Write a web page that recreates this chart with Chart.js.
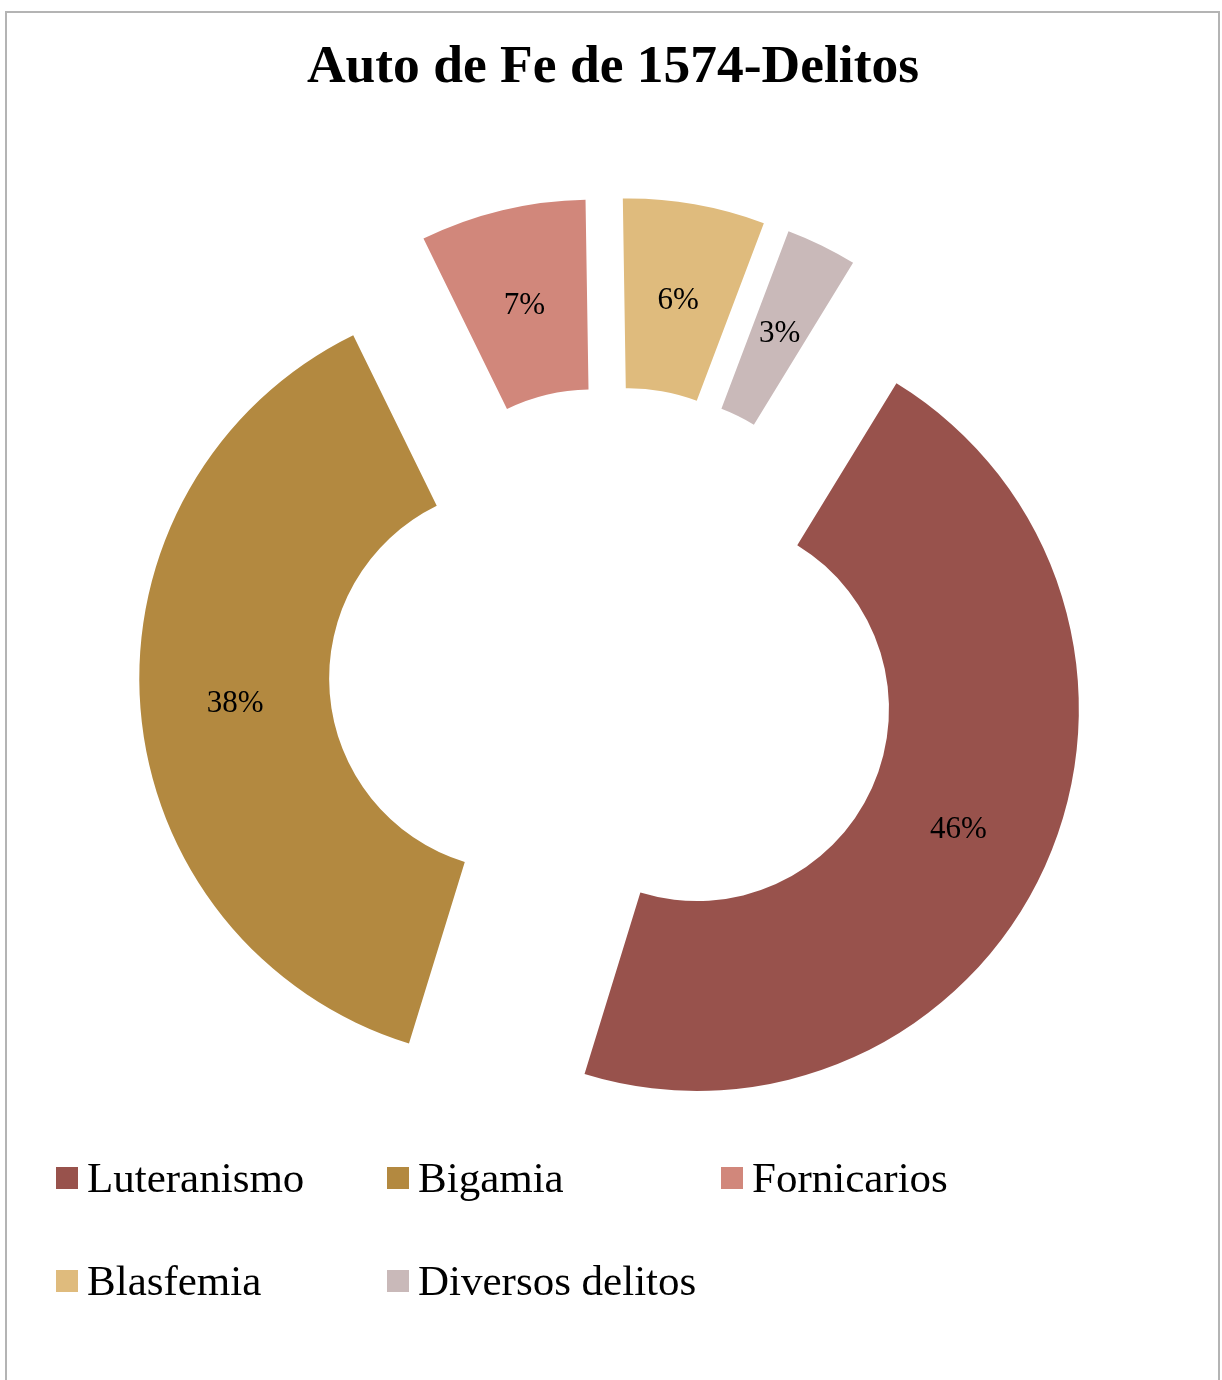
<!DOCTYPE html>
<html>
<head>
<meta charset="utf-8">
<script src="https://cdn.jsdelivr.net/npm/chart.js@4.4.1/dist/chart.umd.min.js"></script>
<style>
  html, body { margin: 0; padding: 0; background: #fff; overflow: hidden; }
  #frame {
    position: absolute; left: 5px; top: 11px;
    width: 1211px; height: 1400px;
    border: 2px solid #b4b4b4;
  }
  #chart { position: absolute; left: 0; top: 0; }
  #legend {
    position: absolute; left: 56px; top: 1156px;
    display: grid;
    grid-template-columns: 331px 334px 300px;
    row-gap: 60px;
    font-family: "Liberation Serif", "Times New Roman", serif;
    font-size: 43px; line-height: 1; color: #000;
  }
  #legend .item { display: flex; align-items: center; white-space: nowrap; }
  #legend .box { width: 22px; height: 22px; margin-right: 9px; }
</style>
</head>
<body>
<div id="frame"></div>
<canvas id="chart" width="1222" height="1380"></canvas>
<div id="legend"></div>
<script>
(function() {
  'use strict';

  var title = 'Auto de Fe de 1574-Delitos';
  var labels = ['Luteranismo', 'Bigamia', 'Fornicarios', 'Blasfemia', 'Diversos delitos'];
  var values = [46, 38, 7, 6, 3];
  var colors = ['#98524c', '#b38940', '#d1877b', '#dfbb7d', '#c9b9b9'];

  // distance every slice is pulled out from the centre
  var explode = 92;
  var serif = '"Liberation Serif", "Times New Roman", serif';

  var explodedSlices = {
    id: 'explodedSlices',
    beforeDatasetDraw: function(chart, args) {
      var ctx = chart.ctx;
      args.meta.data.forEach(function(arc) {
        var mid = (arc.startAngle + arc.endAngle) / 2;
        ctx.save();
        ctx.translate(Math.cos(mid) * explode, Math.sin(mid) * explode);
        arc.draw(ctx);
        ctx.restore();
      });
      return false;
    },
    afterDatasetsDraw: function(chart) {
      var ctx = chart.ctx;
      var meta = chart.getDatasetMeta(0);
      ctx.save();
      ctx.font = '31px ' + serif;
      ctx.fillStyle = '#000';
      ctx.textAlign = 'center';
      ctx.textBaseline = 'middle';
      meta.data.forEach(function(arc, i) {
        var mid = (arc.startAngle + arc.endAngle) / 2;
        var p = arc.tooltipPosition();
        ctx.fillText(values[i] + '%', p.x + Math.cos(mid) * explode, p.y + Math.sin(mid) * explode + 3);
      });
      ctx.restore();
    }
  };

  new Chart(document.getElementById('chart'), {
    type: 'doughnut',
    data: {
      labels: labels,
      datasets: [{
        data: values,
        backgroundColor: colors,
        borderWidth: 0
      }]
    },
    options: {
      responsive: false,
      animation: false,
      events: [],
      rotation: 31.5,
      radius: 382,
      cutout: '50.3%',
      layout: {
        padding: { left: 4, right: 0, top: 0, bottom: 138 }
      },
      plugins: {
        legend: { display: false },
        tooltip: { enabled: false },
        title: {
          display: true,
          text: title,
          color: '#000',
          font: { family: serif, size: 53.5, weight: 'bold' },
          padding: { top: 36, bottom: 0 }
        }
      }
    },
    plugins: [explodedSlices]
  });

  var legendHtml = '';
  for (var i = 0; i < labels.length; i++) {
    legendHtml += '<div class="item"><span class="box" style="background:' + colors[i] + '"></span>' +
      '<span>' + labels[i] + '</span></div>';
  }
  document.getElementById('legend').innerHTML = legendHtml;
})();
</script>
</body>
</html>
